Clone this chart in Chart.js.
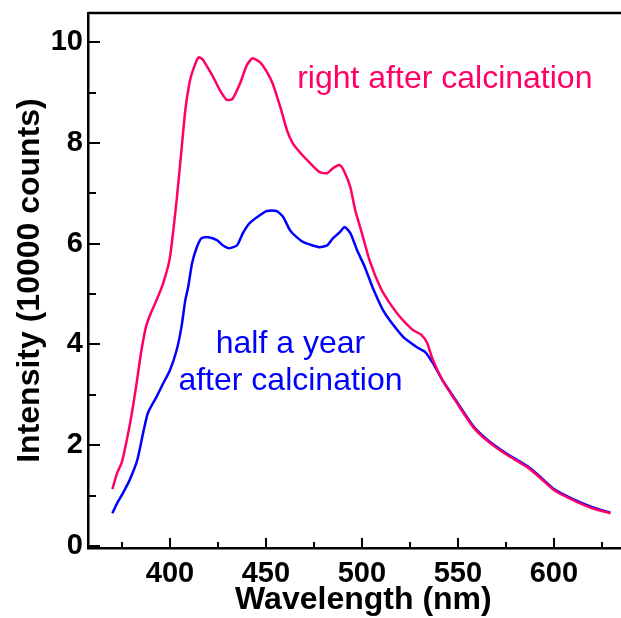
<!DOCTYPE html>
<html>
<head>
<meta charset="utf-8">
<script src="https://cdn.jsdelivr.net/npm/chart.js@4/dist/chart.umd.min.js"></script>
<style>
  html, body { margin: 0; padding: 0; background: #fff; overflow: hidden; }
  #wrap { width: 621px; height: 618px; }
</style>
</head>
<body>
<div id="wrap"><canvas id="grafico"></canvas></div>
<script>
// wavelength (nm) / intensity (10000 counts)
const redX = [370, 372.5, 375, 377.5, 380, 382.5, 385, 387.5, 390, 393, 396.5, 400, 403.5, 406, 408, 410.5, 413, 415, 417, 419, 422.5, 426, 429.5, 432.5, 436.5, 440, 443, 447, 450.5, 453.5, 457.5, 461, 464, 468, 473, 478, 482, 485, 488.5, 491, 494, 496.5, 500, 504, 509.5, 514, 520, 526.5, 531, 534, 537, 542, 549.5, 558, 565, 575.5, 586, 593, 600, 610, 620, 629.5];
const redY = [1.13, 1.45, 1.67, 2.10, 2.60, 3.20, 3.85, 4.35, 4.62, 4.88, 5.22, 5.73, 6.87, 7.86, 8.65, 9.25, 9.55, 9.70, 9.66, 9.54, 9.31, 9.05, 8.86, 8.87, 9.18, 9.54, 9.68, 9.60, 9.41, 9.18, 8.71, 8.25, 7.99, 7.80, 7.60, 7.42, 7.40, 7.50, 7.56, 7.42, 7.12, 6.67, 6.21, 5.67, 5.14, 4.85, 4.54, 4.29, 4.19, 4.03, 3.69, 3.29, 2.84, 2.36, 2.10, 1.81, 1.57, 1.35, 1.11, 0.91, 0.75, 0.65];

const blueX = [370, 372.5, 375.5, 379, 383, 386, 388.5, 393, 396.5, 400, 403.5, 406, 408, 409.5, 411.5, 414, 416.5, 420, 424.5, 427.5, 431, 435, 438, 441.5, 447, 450.5, 455.5, 459, 462.5, 466, 469.5, 474, 478, 482, 485, 488.5, 491, 494, 497.5, 501.5, 505.5, 508.5, 511, 514.5, 521.5, 528.5, 533, 537, 542, 549.5, 558, 565, 575.5, 586, 593, 600, 610, 620, 629.5];
const blueY = [0.65, 0.85, 1.05, 1.31, 1.71, 2.24, 2.64, 2.96, 3.23, 3.49, 3.89, 4.35, 4.88, 5.14, 5.61, 5.93, 6.11, 6.13, 6.07, 5.97, 5.91, 5.97, 6.21, 6.41, 6.57, 6.65, 6.65, 6.53, 6.27, 6.13, 6.03, 5.97, 5.93, 5.97, 6.11, 6.23, 6.33, 6.21, 5.87, 5.54, 5.14, 4.88, 4.68, 4.48, 4.15, 3.95, 3.85, 3.63, 3.29, 2.86, 2.38, 2.12, 1.83, 1.59, 1.37, 1.13, 0.93, 0.77, 0.66];

const xMajor = [400, 450, 500, 550, 600];
const xMinor = [375, 425, 475, 525, 575, 625];
const yMajor = [0, 2, 4, 6, 8, 10];
const yMinor = [1, 3, 5, 7, 9];

// texto dentro del gráfico (coordenadas de datos)
const notas = [
  { text: "right after calcination", x: 543.2, y: 9.09, color: "#ff0066" },
  { text: "half a year", x: 462.8, y: 3.83, color: "#0000ff" },
  { text: "after calcination", x: 462.8, y: 3.10, color: "#0000ff" }
];

const toPoints = (xs, ys) => xs.map((x, i) => ({ x, y: ys[i] }));

// marcas hacia adentro, borde superior y notas
const marcasPlugin = {
  id: "marcas",
  afterDraw(chart) {
    const ctx = chart.ctx;
    const xs = chart.scales.x, ys = chart.scales.y;
    const area = chart.chartArea;
    ctx.save();
    ctx.strokeStyle = "#000";
    ctx.lineWidth = 2;
    ctx.beginPath();
    yMajor.forEach(v => { const p = Math.round(ys.getPixelForValue(v)); ctx.moveTo(area.left, p); ctx.lineTo(area.left + 12, p); });
    yMinor.forEach(v => { const p = Math.round(ys.getPixelForValue(v)); ctx.moveTo(area.left, p); ctx.lineTo(area.left + 8, p); });
    xMajor.forEach(v => { const p = Math.round(xs.getPixelForValue(v)); ctx.moveTo(p, area.bottom); ctx.lineTo(p, area.bottom - 10); });
    xMinor.forEach(v => { const p = Math.round(xs.getPixelForValue(v)); ctx.moveTo(p, area.bottom); ctx.lineTo(p, area.bottom - 6); });
    ctx.stroke();

    ctx.lineWidth = 2.5;
    ctx.beginPath();
    ctx.moveTo(area.left, area.top);
    ctx.lineTo(area.right, area.top);
    ctx.stroke();

    ctx.font = "32px 'Liberation Sans', Arial, sans-serif";
    ctx.textAlign = "center";
    ctx.textBaseline = "alphabetic";
    notas.forEach(n => {
      ctx.fillStyle = n.color;
      ctx.fillText(n.text, xs.getPixelForValue(n.x), ys.getPixelForValue(n.y));
    });
    ctx.restore();
  }
};

const tickFont = { family: "'Liberation Sans', Arial, sans-serif", size: 29, weight: "bold" };
const titleFont = { family: "'Liberation Sans', Arial, sans-serif", size: 32, weight: "bold" };

new Chart(document.getElementById("grafico"), {
  type: "line",
  data: {
    datasets: [
      {
        label: "right after calcination",
        data: toPoints(redX, redY),
        borderColor: "#ff0066",
        borderWidth: 2.5,
        pointRadius: 0,
        tension: 0.2,
        fill: false
      },
      {
        label: "half a year after calcination",
        data: toPoints(blueX, blueY),
        borderColor: "#0000ff",
        borderWidth: 2.5,
        pointRadius: 0,
        tension: 0.2,
        fill: false
      }
    ]
  },
  options: {
    responsive: true,
    maintainAspectRatio: false,
    animation: false,
    layout: { padding: { top: 13, right: 0, left: 0, bottom: 0 } },
    plugins: {
      legend: { display: false },
      tooltip: { enabled: false }
    },
    scales: {
      x: {
        type: "linear",
        min: 357.3,
        max: 635,
        afterBuildTicks: s => { s.ticks = xMajor.map(v => ({ value: v })); },
        afterFit: s => { s.height = 70; s.paddingLeft = 0; s.paddingRight = 0; },
        grid: { drawOnChartArea: false, drawTicks: false },
        border: { display: true, color: "#000", width: 2.5 },
        ticks: { color: "#000", font: tickFont, padding: 9, maxRotation: 0 },
        title: { display: true, text: "  Wavelength (nm)", color: "#000", font: titleFont, padding: { top: 0, bottom: -1 } }
      },
      y: {
        min: -0.04,
        max: 10.58,
        afterBuildTicks: s => { s.ticks = yMajor.map(v => ({ value: v })); },
        afterFit: s => { s.width = 88; s.paddingTop = 0; s.paddingBottom = 0; },
        grid: { drawOnChartArea: false, drawTicks: false },
        border: { display: true, color: "#000", width: 2.5 },
        ticks: { color: "#000", font: tickFont, padding: 5 },
        title: { display: true, text: "Intensity (10000 counts)", color: "#000", font: titleFont, padding: { top: 11, bottom: 0 } }
      }
    }
  },
  plugins: [marcasPlugin]
});
</script>
</body>
</html>
